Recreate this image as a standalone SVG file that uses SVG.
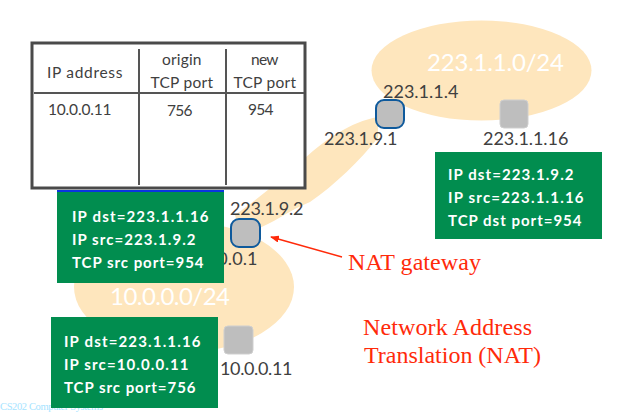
<svg xmlns="http://www.w3.org/2000/svg" width="633" height="420" viewBox="0 0 633 420">
<style>
.t{font-family:"Lato","Open Sans",sans-serif;fill:#404040}
.lab{font-size:18px;letter-spacing:.6px}
.cell{font-size:15.5px;letter-spacing:.5px}
.pkt{font-family:"Lato","Open Sans",sans-serif;fill:#fff;font-size:15px;font-weight:700;letter-spacing:.5px}
.sub{font-family:"Lato","Open Sans",sans-serif;fill:#fff;font-size:24px}
.red{font-family:"Liberation Serif",serif;fill:#ff2a0a;font-size:24px}
.cloud{fill:#fee6bd}
.box{fill:#018d4f}
.host{fill:#bebebe;stroke:#cfcfcf;stroke-width:1}
.router{fill:#bebebe;stroke:#0f5a9c;stroke-width:2}
.grid{stroke:#555;stroke-width:2;fill:none}
</style>
<defs>
<marker id="ah" markerWidth="9" markerHeight="7" refX="8" refY="3.5" orient="auto-start-reverse" markerUnits="userSpaceOnUse"><path d="M0 0L9 3.5L0 7Z" fill="#ff2a0a"/></marker>
</defs>
<g id="networks">
<ellipse class="cloud" cx="481.5" cy="70.5" rx="110" ry="50"/>
<ellipse class="cloud" cx="184" cy="287" rx="110" ry="65"/>
<path class="cloud" d="M378 117C350 122 325 140 305 158C285 176 262 196 235 215L240 233C262 232 285 212 310 202C335 185 360 160 378 138Z"/>
<text class="sub" x="427" y="71" textLength="137">223.1.1.0/24</text>
<text class="sub" x="110" y="305" textLength="120">10.0.0.0/24</text>
</g>
<g id="table">
<rect x="32" y="43" width="273" height="145" fill="#fff" stroke="#4a4a4a" stroke-width="3"/>
<path class="grid" d="M34 93H304M139 49V185M226 49V185"/>
<text class="t cell" x="85" y="78" text-anchor="middle" textLength="76">IP address</text>
<text class="t cell" x="182" y="65" text-anchor="middle" textLength="40">origin</text>
<text class="t cell" x="182" y="88" text-anchor="middle" textLength="63">TCP port</text>
<text class="t cell" x="265" y="65" text-anchor="middle" textLength="28">new</text>
<text class="t cell" x="265" y="88" text-anchor="middle" textLength="63">TCP port</text>
<text class="t cell" x="80" y="115" text-anchor="middle" textLength="64">10.0.0.11</text>
<text class="t cell" x="180" y="116" text-anchor="middle" textLength="26">756</text>
<text class="t cell" x="261" y="115" text-anchor="middle" textLength="26">954</text>
</g>
<g id="router-lan">
<rect class="router" x="231" y="219" width="29" height="28" rx="8"/>
<text class="t lab" x="230" y="215" textLength="74">223.1.9.2</text>
<text class="t lab" x="192" y="265" textLength="66">10.0.0.1</text>
</g>
<g id="footer">
<text x="0" y="410" font-family="Liberation Serif,serif" font-size="10.5" fill="#a6e4ff" textLength="103">CS202 Computer Systems</text>
</g>
<g id="packet-nat-out">
<rect x="57" y="190" width="167" height="3" fill="#0a35e0"/>
<rect class="box" x="57" y="192" width="167" height="91"/>
<text class="pkt" x="72" y="222" textLength="137">IP dst=223.1.1.16</text>
<text class="pkt" x="72" y="245" textLength="124">IP src=223.1.9.2</text>
<text class="pkt" x="72" y="268" textLength="132">TCP src port=954</text>
</g>
<g id="packet-private">
<rect class="box" x="51" y="317" width="167" height="91"/>
<text class="pkt" x="64" y="347" textLength="137">IP dst=223.1.1.16</text>
<text class="pkt" x="64" y="370" textLength="125">IP src=10.0.0.11</text>
<text class="pkt" x="64" y="393" textLength="132">TCP src port=756</text>
</g>
<g id="packet-reply">
<rect class="box" x="435" y="152" width="167" height="87"/>
<text class="pkt" x="448" y="180" textLength="126">IP dst=223.1.9.2</text>
<text class="pkt" x="448" y="203" textLength="136">IP src=223.1.1.16</text>
<text class="pkt" x="448" y="226" textLength="134">TCP dst port=954</text>
</g>
<g id="router-wan">
<rect class="router" x="376" y="100" width="28" height="28" rx="8"/>
<text class="t lab" x="383" y="98" textLength="76">223.1.1.4</text>
<text class="t lab" x="324" y="145" textLength="74">223.1.9.1</text>
</g>
<g id="host-public">
<rect class="host" x="500" y="100" width="28" height="28" rx="4"/>
<text class="t lab" x="483" y="145" textLength="86">223.1.1.16</text>
</g>
<g id="host-private">
<rect class="host" x="224" y="326" width="29" height="28" rx="4"/>
<text class="t lab" x="220" y="375" textLength="73">10.0.0.11</text>
</g>
<g id="connectors">
<path d="M342 257L271 237" stroke="#ff2a0a" stroke-width="1.5" fill="none" marker-end="url(#ah)"/>
</g>
<g id="labels">
<text class="red" x="348" y="270" textLength="133">NAT gateway</text>
<text class="red" x="363" y="335" textLength="169">Network Address</text>
<text class="red" x="364" y="363" textLength="177">Translation (NAT)</text>
</g>
</svg>
